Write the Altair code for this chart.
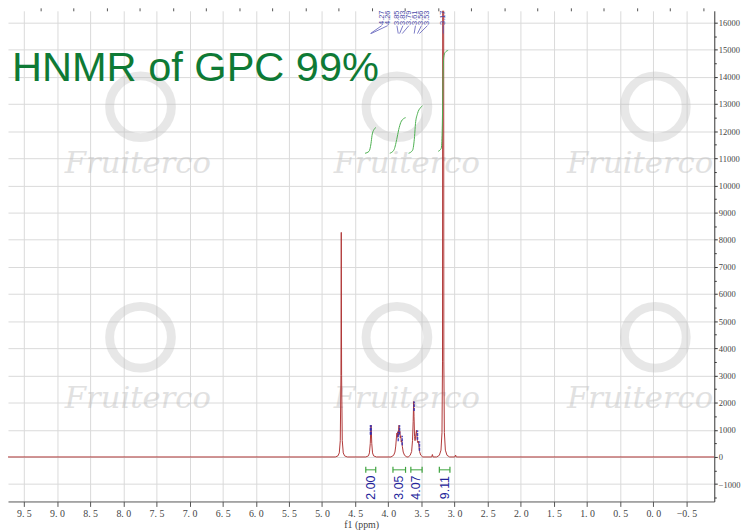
import altair as alt
import pandas as pd

# ---------------- data ----------------
# 1H NMR spectrum (ppm, intensity)
spec_ppm = [9.74,
            4.80, 4.76, 4.74, 4.725, 4.715, 4.71, 4.705, 4.695, 4.68, 4.66, 4.62,
            4.34, 4.30, 4.285, 4.272, 4.265, 4.261, 4.257, 4.25, 4.238, 4.222, 4.18,
            3.96, 3.92, 3.90, 3.888, 3.878, 3.870, 3.864, 3.857, 3.850, 3.845, 3.838,
            3.832, 3.826, 3.819, 3.812, 3.805, 3.797, 3.788, 3.775, 3.755, 3.72,
            3.70, 3.67, 3.648, 3.635, 3.625, 3.618, 3.612, 3.604, 3.597, 3.590,
            3.583, 3.575, 3.568, 3.561, 3.553, 3.545, 3.538, 3.528, 3.512, 3.48,
            3.345, 3.335, 3.325,
            3.27, 3.23, 3.205, 3.19, 3.182, 3.177, 3.167, 3.162, 3.154, 3.139, 3.114, 3.074,
            2.995, 2.985, 2.975,
            -0.92]
spec_int = [0,
            0, 40, 150, 600, 3000, 8270, 3000, 600, 150, 40, 0,
            0, 40, 150, 500, 1000, 1170, 1000, 500, 150, 40, 0,
            0, 60, 180, 400, 700, 880, 720, 930, 800, 1000, 1170,
            850, 950, 700, 780, 550, 620, 380, 180, 60, 0,
            0, 60, 200, 600, 1300, 2040, 1500, 750, 600, 700,
            850, 980, 800, 600, 520, 580, 420, 200, 70, 0,
            0, 90, 0,
            0, 60, 250, 900, 3500, 30000, 30000, 3500, 900, 250, 60, 0,
            0, 70, 0,
            0]

# peak picking
pick_text = ["4.27", "4.26", "3.85", "3.83", "3.79", "3.61", "3.56", "3.53", "3.17"]
pick_ppm = [4.27, 4.26, 3.85, 3.83, 3.79, 3.61, 3.56, 3.53, 3.17]
pick_int = [1170, 1170, 930, 1170, 780, 2040, 980, 580, 17000]
pick_label_ppm = [4.10, 4.01, 3.87, 3.78, 3.69, 3.59, 3.50, 3.41, 3.172]

# integrals
int_start = [4.34, 3.93, 3.66, 3.23]
int_end = [4.19, 3.74, 3.49, 3.07]
int_value = ["2.00", "3.05", "4.07", "9.11"]

curve_ppm = [
    [4.351, 4.291, 4.261, 4.246, 4.216, 4.187],
    [3.978, 3.918, 3.873, 3.843, 3.813, 3.769, 3.739],
    [3.694, 3.634, 3.604, 3.590, 3.560, 3.515, 3.485],
    [3.246, 3.201, 3.187, 3.179, 3.172, 3.164, 3.142, 3.097],
]
curve_int = [
    [11184, 11257, 11548, 11840, 12058, 12131],
    [11184, 11293, 11694, 12058, 12313, 12459, 12495],
    [11184, 11293, 11803, 12277, 12641, 12860, 12933],
    [11257, 11366, 11985, 13078, 14171, 14718, 14900, 14973],
]

# axes
x_ticks = [9.5, 9.0, 8.5, 8.0, 7.5, 7.0, 6.5, 6.0, 5.5, 5.0, 4.5, 4.0,
           3.5, 3.0, 2.5, 2.0, 1.5, 1.0, 0.5, 0.0, -0.5]
x_minor = [9.25, 8.75, 8.25, 7.75, 7.25, 6.75, 6.25, 5.75, 5.25, 4.75, 4.25,
           3.75, 3.25, 2.75, 2.25, 1.75, 1.25, 0.75, 0.25, -0.25, -0.75]
y_ticks = [-1000, 0, 1000, 2000, 3000, 4000, 5000, 6000, 7000, 8000, 9000,
           10000, 11000, 12000, 13000, 14000, 15000, 16000]
y_minor = [-1500, -500, 500, 1500, 2500, 3500, 4500, 5500, 6500, 7500, 8500,
           9500, 10500, 11500, 12500, 13500, 14500, 15500]

title_text = "HNMR of GPC 99%"
watermark_text = "Fruiterco"
wm_logo_ppm = [7.74, 7.74, 3.87, 3.87, -0.03, -0.03]
wm_logo_int = [12896, 4408, 12896, 4408, 12896, 4408]
wm_text_ppm = [7.78, 7.78, 3.72, 3.72, 0.20, 0.20]
wm_text_int = [10455, 1785, 10455, 1785, 10455, 1785]

# ---------------- styling constants ----------------
X_DOMAIN = [-0.92, 9.74]
Y_DOMAIN = [-1639, 16430]
LABEL_Y = 16175
CONN_TOP = 15883
CONN_BOT = 15592
BRACKET_Y = -474
CAP = 110
INT_TEXT_Y = -1129
TITLE_PPM = 9.679
TITLE_Y = 13843

xs = alt.Scale(domain=X_DOMAIN, reverse=True, nice=False, zero=False)
ys = alt.Scale(domain=Y_DOMAIN, nice=False, zero=False)


def X(field="ppm", axis=None):
    return alt.X(f"{field}:Q", scale=xs, axis=axis)


def Y(field="val", axis=None):
    return alt.Y(f"{field}:Q", scale=ys, axis=axis)


spec_df = pd.DataFrame({"ppm": spec_ppm, "val": spec_int, "k": range(len(spec_ppm))})
pick_df = pd.DataFrame({"ppm": pick_ppm, "val": pick_int, "text": pick_text,
                        "lab": pick_label_ppm})
pick_df["low"] = pick_df["val"] - 350

conn_rows = []
for i, (lp, pp) in enumerate(zip(pick_label_ppm, pick_ppm)):
    conn_rows.append({"id": i, "k": 0, "ppm": lp, "val": CONN_TOP})
    conn_rows.append({"id": i, "k": 1, "ppm": pp, "val": CONN_BOT})
conn_df = pd.DataFrame(conn_rows)

curve_rows = []
for i, (cp, ci) in enumerate(zip(curve_ppm, curve_int)):
    for k, (p, v) in enumerate(zip(cp, ci)):
        curve_rows.append({"id": i, "k": k, "ppm": p, "val": v})
curve_df = pd.DataFrame(curve_rows)

int_df = pd.DataFrame({"s": int_start, "e": int_end, "text": int_value})
int_df["mid"] = (int_df["s"] + int_df["e"]) / 2
int_df["y"] = BRACKET_Y
int_df["ty"] = INT_TEXT_Y
caps_df = pd.DataFrame({"ppm": int_start + int_end})
caps_df["c1"] = BRACKET_Y - CAP
caps_df["c2"] = BRACKET_Y + CAP

logo_df = pd.DataFrame({"ppm": wm_logo_ppm, "val": wm_logo_int})
wmt_df = pd.DataFrame({"ppm": wm_text_ppm, "val": wm_text_int, "text": watermark_text})
title_df = pd.DataFrame({"ppm": [TITLE_PPM], "val": [TITLE_Y], "text": [title_text]})

lab_df = pick_df.copy()
lab_df["ly"] = LABEL_Y

# ---------------- axes ----------------
x_axis = alt.Axis(values=x_ticks,
                  labelExpr="replace(format(datum.value, '.1f'), '.', '. ')",
                  title="f1 (ppm)", grid=True, gridColor="#dadada", gridWidth=1,
                  domainColor="#555555", tickColor="#555555", tickSize=5,
                  labelFont="Liberation Serif", labelFontSize=10, labelColor="#444444",
                  labelPadding=2, labelFlush=False, labelOverlap=False,
                  titleFont="Liberation Serif", titleFontSize=10, titleFontWeight="normal",
                  titleColor="#444444", titlePadding=1)
y_axis = alt.Axis(orient="right", values=y_ticks, format="d", title=None, grid=True,
                  gridColor="#dadada", gridWidth=1, domainColor="#333333",
                  tickColor="#333333", tickSize=3, labelFont="Liberation Serif",
                  labelFontSize=8.6, labelColor="#444444", labelPadding=1,
                  labelFlush=False, labelOverlap=False)
x_minor_axis = alt.Axis(values=x_minor, labels=False, grid=False, domain=False,
                        tickColor="#555555", tickSize=3, title=None)
y_minor_axis = alt.Axis(orient="right", values=y_minor, labels=False, grid=False,
                        domain=False, tickColor="#333333", tickSize=2, title=None)

# ---------------- layers ----------------
logos = alt.Chart(logo_df).mark_point(shape="circle", size=3900, filled=False,
                                      strokeWidth=9, color="#bdbdbd", opacity=0.35,
                                      clip=True).encode(
    x=X(), y=Y())
wm_text = alt.Chart(wmt_df).mark_text(font="DejaVu Serif", fontStyle="italic",
                                      fontSize=31, color="#bdbdbd", opacity=0.45,
                                      align="center", baseline="alphabetic",
                                      clip=True).encode(
    x=X(), y=Y(), text="text:N")

spectrum = alt.Chart(spec_df).mark_line(color="#b03838", strokeWidth=1, clip=True).encode(
    x=X(axis=x_axis), y=Y(axis=y_axis), order="k:Q")

minor = alt.Chart(pd.DataFrame({"ppm": [0.0], "val": [0.0]})).mark_point(opacity=0).encode(
    x=X(axis=x_minor_axis), y=Y(axis=y_minor_axis))

curves = alt.Chart(curve_df).mark_line(color="#4caf50", strokeWidth=1,
                                       interpolate="monotone").encode(
    x=X(), y=Y(), detail="id:N", order="k:Q")

picks = alt.Chart(pick_df).mark_rule(color="#2a2ab8", strokeWidth=1.6, opacity=0.8,
                                     strokeDash=[3, 1], clip=True).encode(
    x=X(), y=Y("low"), y2="val:Q")

conns = alt.Chart(conn_df).mark_line(color="#5a5ab8", strokeWidth=0.8).encode(
    x=X(), y=Y(), detail="id:N", order="k:Q")

labels = alt.Chart(lab_df).mark_text(font="Liberation Sans", fontSize=7.5, angle=270,
                                     color="#4a4aa8", align="center",
                                     baseline="middle").encode(
    x=X("lab"), y=Y("ly"), text="text:N")

br_h = alt.Chart(int_df).mark_rule(color="#3da33d", strokeWidth=1).encode(
    x=X("s"), x2="e:Q", y=Y("y"))
br_c = alt.Chart(caps_df).mark_rule(color="#3da33d", strokeWidth=1.2).encode(
    x=X(), y=Y("c1"), y2="c2:Q")
int_text = alt.Chart(int_df).mark_text(font="Liberation Sans", fontSize=12.5, angle=270,
                                       color="#24249a", align="center",
                                       baseline="middle").encode(
    x=X("mid"), y=Y("ty"), text="text:N")

title = alt.Chart(title_df).mark_text(font="Liberation Sans", fontSize=42,
                                      color="#0e7a35", align="left",
                                      baseline="alphabetic").encode(
    x=X(), y=Y(), text="text:N")

chart = alt.layer(
    logos, wm_text, spectrum, minor, curves, picks, conns, labels,
    br_h, br_c, int_text, title
).resolve_axis(x="independent", y="independent").properties(
    width=714, height=496,
    autosize=alt.AutoSizeParams(type="none"),
    padding={"left": 0, "top": 0, "right": 28, "bottom": 26},
    background="white",
).configure_view(stroke=None)

chart.save("out.html", embed_options={"renderer": "svg", "actions": False})
